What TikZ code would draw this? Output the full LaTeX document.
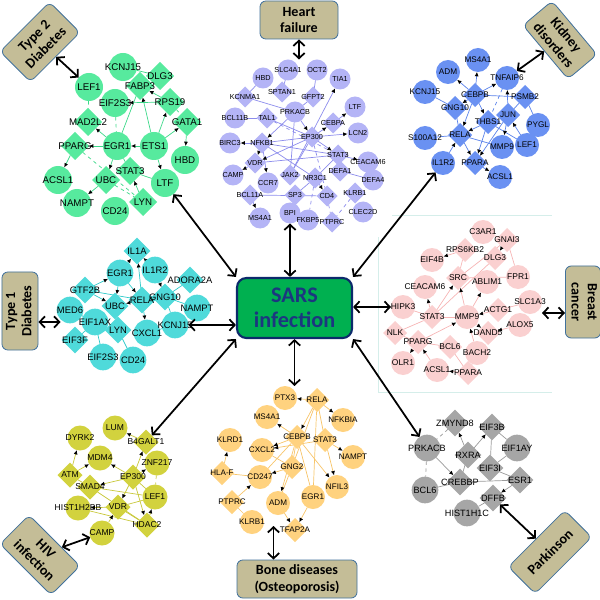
\documentclass[tikz,border=0pt]{standalone}
\usepackage{graphicx}
\usepackage{fontspec}
\setmainfont{Liberation Sans}
\newfontfamily\boxfont{Carlito}
\usetikzlibrary{arrows.meta, shapes.geometric, calc}
\definecolor{dboxc}{HTML}{C4BD97}
\definecolor{dboxl}{HTML}{41719C}
\definecolor{sarsc}{HTML}{00B050}
\definecolor{sarsl}{HTML}{0C2A6B}
\definecolor{sarst}{HTML}{1C3680}
\definecolor{t2c}{HTML}{57EA9E}
\definecolor{t2l}{HTML}{3DD889}
\definecolor{hfc}{HTML}{B4B4F6}
\definecolor{hfl}{HTML}{8C8CEC}
\definecolor{kdc}{HTML}{6A91F2}
\definecolor{kdl}{HTML}{5A82EA}
\definecolor{t1c}{HTML}{4FDADA}
\definecolor{t1l}{HTML}{30CACA}
\definecolor{bcc}{HTML}{FAD0D0}
\definecolor{bcl}{HTML}{F6B4B4}
\definecolor{hvc}{HTML}{D2D23E}
\definecolor{hvl}{HTML}{C8C83A}
\definecolor{boc}{HTML}{FFD27F}
\definecolor{bol}{HTML}{F7C56A}
\definecolor{pkc}{HTML}{A6A6A6}
\definecolor{pkl}{HTML}{9A9A9A}
\definecolor{framec}{HTML}{D5EEEA}
\pgfdeclarelayer{edges}
\pgfdeclarelayer{shapes}
\pgfsetlayers{edges,shapes,main}
\tikzset{
  gene/.style={inner sep=0pt, outer sep=0pt},
  gtxt/.style={inner sep=0pt, text=black},
  t2/.style={fill=t2c, minimum size=0.84cm}, t2txt/.style={font=\fontsize{8.3}{9}\selectfont}, t2edge/.style={draw=t2l},
  hf/.style={fill=hfc, minimum size=0.63cm}, hftxt/.style={font=\fontsize{6.2}{7}\selectfont}, hfedge/.style={draw=hfl},
  kd/.style={fill=kdc, minimum size=0.72cm}, kdtxt/.style={font=\fontsize{7}{8}\selectfont}, kdedge/.style={draw=kdl},
  t1/.style={fill=t1c, minimum size=0.8cm}, t1txt/.style={font=\fontsize{8}{9}\selectfont}, t1edge/.style={draw=t1l},
  bc/.style={fill=bcc, minimum size=0.72cm}, bctxt/.style={font=\fontsize{7.2}{8}\selectfont}, bcedge/.style={draw=bcl},
  hv/.style={fill=hvc, minimum size=0.75cm}, hvtxt/.style={font=\fontsize{7.3}{8}\selectfont}, hvedge/.style={draw=hvl},
  bo/.style={fill=boc, minimum size=0.72cm}, botxt/.style={font=\fontsize{6.9}{8}\selectfont}, boedge/.style={draw=bol},
  pk/.style={fill=pkc, minimum size=0.8cm}, pktxt/.style={font=\fontsize{7.8}{9}\selectfont}, pkedge/.style={draw=pkl},
  lnk/.style={line width=0.6pt},
  arr/.style={lnk, -{Latex[length=1.3mm, width=1.2mm, color=black]}},
  dbox/.style={draw=dboxl, fill=dboxc, line width=0.7pt, rounded corners=5pt, align=center,
               inner sep=1pt, font=\boxfont\bfseries\fontsize{12}{14}\selectfont},
  hub/.style={draw=sarsl, fill=sarsc, line width=1.8pt, rounded corners=8pt, align=center,
              text=sarst, font=\boxfont\bfseries\fontsize{19}{21}\selectfont},
  big/.style={{Straight Barb[length=1.6mm, width=3.4mm]}-{Straight Barb[length=1.6mm, width=3.4mm]}, line width=1.5pt},
  framel/.style={draw=framec, line width=0.6pt},
}
% one network: shapes behind, names on top
\newcommand{\cluster}[2]{%
  \foreach \g/\x/\y/\s in {#2} {
    \begin{pgfonlayer}{shapes}
      \node[gene, #1, shape=\s] (#1\g) at (\x,\y) {};
    \end{pgfonlayer}
    \node[gtxt, #1txt] (#1\g-t) at (\x,\y) {\g};
  }}
\newcommand{\links}[3]{%
  \begin{pgfonlayer}{edges}
    \foreach \a/\b in {#3} \draw[#1edge, #2] (#1\a) -- (#1\b);
  \end{pgfonlayer}}

\begin{document}
\begin{tikzpicture}[x=0.03cm, y=-0.03cm]
\useasboundingbox (0,0) rectangle (600,600);

% ---------------- frame round the breast cancer network ----------------
\draw[framel] (392,215) -- (552,215);
\draw[framel] (378,237) -- (378,392) -- (552,392);

% ---------------- Type 2 diabetes ----------------
\cluster{t2}{KCNJ15/123/67/circle, DLG3/160/76/diamond, FABP3/140/86/diamond, LEF1/89/87/circle,
  EIF2S3/115/103/circle, RPS19/170/102/diamond, MAD2L2/88/122/diamond, GATA1/187/122/diamond,
  PPARG/75/146/diamond, EGR1/117/146/circle, ETS1/154/146/circle, HBD/185/160/circle,
  STAT3/130/171/diamond, ACSL1/58/180/circle, UBC/106/180/diamond, LTF/165/183/circle,
  NAMPT/77/203/circle, LYN/143/202/diamond, CD24/115/211/circle}
\links{t2}{lnk}{KCNJ15/DLG3, EGR1/FABP3, EGR1/STAT3, STAT3/LTF}
\links{t2}{lnk, dashed}{LEF1/MAD2L2, EIF2S3/EGR1, PPARG/LYN, UBC/LYN, RPS19/GATA1}
\links{t2}{arr}{ETS1/EGR1, EGR1/PPARG, PPARG/ACSL1, EGR1/UBC, ETS1/LTF, RPS19/EIF2S3, ETS1/FABP3,
  ETS1/RPS19, ETS1/GATA1, GATA1/HBD, UBC/NAMPT, LYN/STAT3, RPS19/FABP3, EGR1/MAD2L2}

% ---------------- heart failure ----------------
\cluster{hf}{SLC4A1/288/70/circle, OCT2/317/70/circle, TIA1/340/79/circle, HBD/263/78/circle,
  SPTAN1/282/92/diamond, GFPT2/313/97/diamond, KCNMA1/245/97/diamond, LTF/355/107/circle,
  PRKACB/295/112/circle, BCL11B/235/118/circle, TAL1/267/118/diamond, CEBPA/333/123/diamond,
  EP300/312/137/diamond, LCN2/358/133/circle, BIRC3/230/143/circle, NFKB1/262/143/diamond,
  STAT3/338/155/diamond, CEACAM6/368/162/circle, VDR/255/163/diamond, CAMP/233/175/circle,
  JAK2/290/175/diamond, NR3C1/315/178/diamond, DEFA1/340/171/diamond, DEFA4/373/180/circle,
  CCR7/268/183/circle, BCL11A/250/195/diamond, SP3/295/195/diamond, CD4/327/196/diamond,
  KLRB1/355/193/diamond, CLEC2D/363/212/circle, MS4A1/260/218/circle, BPI/290/213/circle,
  FKBP5/308/220/circle, PTPRC/332/222/diamond}
\links{hf}{lnk}{SLC4A1/SPTAN1, OCT2/GFPT2, HBD/KCNMA1, KCNMA1/PRKACB, GFPT2/PRKACB, BCL11B/TAL1,
  TAL1/EP300, NFKB1/STAT3, NFKB1/EP300, JAK2/PRKACB, DEFA1/DEFA4, BPI/FKBP5, SP3/NR3C1,
  NR3C1/STAT3, VDR/STAT3, NFKB1/NR3C1, BCL11A/CD4, JAK2/EP300}
\links{hf}{lnk, dashed}{TAL1/STAT3, KLRB1/PTPRC, CD4/PTPRC, NR3C1/FKBP5, EP300/CD4}
\links{hf}{arr}{PRKACB/EP300, EP300/CEBPA, EP300/LCN2, EP300/STAT3, CEBPA/LTF, STAT3/CEACAM6,
  NFKB1/BIRC3, VDR/CAMP, NFKB1/VDR, NFKB1/CCR7, JAK2/TIA1, BCL11A/MS4A1, NR3C1/CD4, EP300/VDR,
  PRKACB/NFKB1}

% ---------------- kidney disorders ----------------
\cluster{kd}{MS4A1/478/60/circle, ADM/448/72/circle, TNFAIP6/507/78/circle, KCNJ15/425/92/circle,
  CEBPB/475/95/diamond, PSMB2/525/97/diamond, GNG10/455/108/diamond, JUN/508/115/diamond,
  THBS1/488/122/diamond, PYGL/538/125/circle, RELA/460/135/diamond, S100A12/425/138/circle,
  LEF1/527/145/circle, MMP9/502/147/circle, IL1R2/443/163/circle, PPARA/475/163/diamond,
  ACSL1/500/177/circle}
\links{kd}{lnk}{KCNJ15/GNG10, S100A12/RELA, PSMB2/PYGL, CEBPB/PSMB2, PSMB2/JUN, GNG10/RELA,
  RELA/MMP9, THBS1/LEF1}
\links{kd}{lnk, dashed}{TNFAIP6/THBS1}
\links{kd}{arr}{CEBPB/MS4A1, CEBPB/ADM, CEBPB/TNFAIP6, CEBPB/GNG10, CEBPB/RELA, CEBPB/THBS1,
  JUN/TNFAIP6, JUN/MMP9, LEF1/JUN, THBS1/RELA, RELA/PPARA, IL1R2/RELA, PPARA/ACSL1,
  THBS1/PPARA, JUN/PPARA}

% ---------------- Type 1 diabetes ----------------
\cluster{t1}{IL1A/137/251/diamond, EGR1/120/273/circle, IL1R2/155/270/circle, ADORA2A/190/280/diamond,
  GTF2B/85/290/diamond, GNG10/165/297/diamond, RELA/142/300/diamond, UBC/115/306/diamond,
  MED6/70/310/circle, NAMPT/197/308/circle, EIF1AX/95/322/circle, KCNJ15/175/325/circle,
  LYN/118/330/diamond, CXCL1/147/333/circle, EIF3F/75/340/diamond, EIF2S3/103/357/circle,
  CD24/133/360/circle}
\links{t1}{lnk}{GTF2B/RELA, GNG10/ADORA2A, GNG10/RELA, GNG10/KCNJ15, MED6/EIF1AX, EIF1AX/EIF3F,
  EIF1AX/EIF2S3, LYN/CD24, CXCL1/KCNJ15, NAMPT/GNG10}
\links{t1}{arr}{RELA/IL1A, EGR1/IL1A, IL1R2/IL1A, GTF2B/EGR1, GTF2B/UBC, RELA/UBC, EGR1/UBC,
  RELA/CXCL1, EGR1/RELA, IL1R2/GNG10}

% ---------------- breast cancer ----------------
\cluster{bc}{C3AR1/483/232/circle, GNAI3/507/240/diamond, RPS6KB2/465/250/diamond, EIF4B/432/260/circle,
  DLG3/495/258/diamond, SRC/458/278/diamond, ABLIM1/487/282/circle, FPR1/518/277/circle,
  CEACAM6/425/287/circle, SLC1A3/530/302/circle, HIPK3/403/307/circle, STAT3/432/317/diamond,
  MMP9/467/317/circle, ACTG1/498/310/diamond, ALOX5/520/325/circle, NLK/395/333/diamond,
  DAND5/488/333/diamond, PPARG/418/342/diamond, BCL6/450/347/diamond, BACH2/477/353/circle,
  OLR1/403/363/circle, ACSL1/437/370/circle, PPARA/468/373/diamond}
\links{bc}{lnk}{C3AR1/GNAI3, GNAI3/FPR1, GNAI3/SRC, DLG3/STAT3, HIPK3/STAT3, NLK/STAT3, NLK/PPARG,
  PPARG/BCL6, BCL6/PPARA, STAT3/MMP9, FPR1/SRC, SLC1A3/ACTG1, PPARA/BACH2, RPS6KB2/SRC}
\links{bc}{arr}{STAT3/CEACAM6, STAT3/SRC, MMP9/SRC, MMP9/ABLIM1, ACTG1/MMP9, MMP9/DAND5,
  ALOX5/DAND5, BACH2/MMP9, PPARG/MMP9, PPARG/OLR1, ACSL1/PPARG, PPARA/ACSL1, RPS6KB2/EIF4B,
  GNAI3/DLG3}

% ---------------- HIV infection ----------------
\cluster{hv}{LUM/115/428/circle, DYRK2/80/438/circle, B4GALT1/146/442/diamond, MDM4/100/458/circle,
  ZNF217/157/463/circle, ATM/70/475/diamond, EP300/133/477/diamond, SMAD4/90/487/diamond,
  LEF1/155/497/circle, HIST1H2BB/78/508/circle, VDR/118/507/diamond, HDAC2/147/525/diamond,
  CAMP/102/533/circle}
\links{hv}{lnk}{ATM/SMAD4, SMAD4/LEF1, SMAD4/HDAC2, VDR/HDAC2, VDR/LEF1, HIST1H2BB/HDAC2, EP300/LEF1}
\links{hv}{lnk, dashed}{ZNF217/LEF1}
\links{hv}{arr}{ATM/DYRK2, ATM/MDM4, EP300/MDM4, B4GALT1/LUM, EP300/B4GALT1, EP300/ZNF217,
  EP300/SMAD4, EP300/VDR, EP300/HDAC2, CAMP/VDR, HDAC2/LEF1, VDR/HIST1H2BB}

% ---------------- bone diseases ----------------
\cluster{bo}{PTX3/285/398/circle, RELA/317/400/diamond, MS4A1/267/417/circle, NFKBIA/343/420/circle,
  KLRD1/230/440/circle, CEBPB/297/437/diamond, STAT3/325/440/diamond, CXCL2/262/450/circle,
  NAMPT/353/457/circle, GNG2/292/467/diamond, HLA-F/222/473/diamond, CD247/260/477/circle,
  NFIL3/337/487/circle, PTPRC/232/502/diamond, ADM/278/503/circle, EGR1/313/497/circle,
  KLRB1/252/522/circle, TFAP2A/295/530/diamond}
\links{bo}{lnk}{HLA-F/CD247, PTPRC/KLRB1, CEBPB/GNG2, CXCL2/GNG2, GNG2/ADM, EGR1/RELA, EGR1/CEBPB,
  RELA/GNG2, STAT3/RELA, CEBPB/CD247}
\links{bo}{arr}{RELA/PTX3, RELA/NFKBIA, RELA/CEBPB, CEBPB/CXCL2, CEBPB/MS4A1, STAT3/NAMPT,
  STAT3/NFIL3, CEBPB/NFIL3, CEBPB/ADM, GNG2/CD247, HLA-F/KLRD1, PTPRC/CD247, EGR1/TFAP2A,
  ADM/TFAP2A, STAT3/CXCL2}

% ---------------- Parkinson ----------------
\cluster{pk}{ZMYND8/455/423/diamond, EIF3B/492/427/diamond, PRKACB/427/448/circle, RXRA/468/455/diamond,
  EIF1AY/517/448/circle, EIF3I/490/468/diamond, CREBBP/460/482/diamond, ESR1/520/480/diamond,
  BCL6/425/490/circle, DFFB/493/498/diamond, HIST1H1C/467/513/circle}
\links{pk}{lnk}{EIF3B/EIF3I, EIF3B/EIF1AY, EIF3I/EIF1AY, CREBBP/ESR1, EIF3I/ESR1, CREBBP/BCL6,
  RXRA/CREBBP, DFFB/HIST1H1C}
\links{pk}{lnk, dashed}{ZMYND8/PRKACB, PRKACB/BCL6}
\links{pk}{arr}{RXRA/ZMYND8, RXRA/EIF3B, PRKACB/CREBBP, ESR1/DFFB}

% ---------------- disease boxes ----------------
\node[dbox, rotate=45, minimum width=2.1cm, minimum height=1.29cm] (t2box) at (40,42) {Type 2\\Diabetes};
\node[dbox, minimum width=2.34cm, minimum height=1.14cm] (hfbox) at (299,20) {Heart\\failure};
\node[dbox, rotate=-50, minimum width=2.1cm, minimum height=1.14cm] (kdbox) at (560,40) {Kidney\\disorders};
\node[dbox, minimum width=1.08cm, minimum height=2.34cm] (t1box) at (20,311)
  {\rotatebox{90}{\begin{tabular}{@{}c@{}}Type 1\\Diabetes\end{tabular}}};
\node[dbox, minimum width=0.96cm, minimum height=2.16cm] (bcbox) at (583,302)
  {\rotatebox{-90}{\begin{tabular}{@{}c@{}}Breast\\cancer\end{tabular}}};
\node[dbox, rotate=-45, minimum width=2.16cm, minimum height=1.23cm] (hvbox) at (40,555) {HIV\\infection};
\node[dbox, minimum width=3.6cm, minimum height=1.14cm] (bobox) at (297,579) {Bone diseases\\(Osteoporosis)};
\node[dbox, rotate=45, minimum width=2.4cm, minimum height=1.14cm] (pkbox) at (550,552) {Parkinson};

% ---------------- SARS ----------------
\node[hub, minimum width=3.45cm, minimum height=1.8cm] (sars) at (294.5,308) {SARS\\infection};

% ---------------- arrows ----------------
\draw[big] (t2LTF) -- (sars.north west);
\draw[big] (hfBPI) -- (hfBPI |- sars.north);
\draw[big] (kdIL1R2) -- (sars.north east);
\draw[big] (t1KCNJ15) -- (t1KCNJ15 -| sars.west);
\draw[big] (sars.east |- bcHIPK3) -- (bcHIPK3);
\draw[big] (sars.south west) -- (hvB4GALT1);
\draw[big] (sars.south) -- (sars.south |- boPTX3.north);
\draw[big] (sars.south east) -- (pkPRKACB);

\draw[big] (t2box) -- (t2LEF1);
\draw[big] (hfbox.south) -- (hfbox.south |- hfSLC4A1.north);
\draw[big] (kdbox) -- (kdTNFAIP6);
\draw[big] (t1box.east |- t1EIF1AX) -- (t1MED6.south west |- t1EIF1AX);
\draw[big] (bcbox.west |- bcALOX5.north) -- (bcSLC1A3.east |- bcALOX5.north);
\draw[big] (hvbox) -- (hvCAMP);
\coordinate (bomid) at ($(boKLRB1)!0.5!(boTFAP2A)$);
\draw[big] (bobox.north -| bomid) -- (bomid);
\draw[big] (pkbox) -- (pkDFFB);

\end{tikzpicture}
\end{document}
